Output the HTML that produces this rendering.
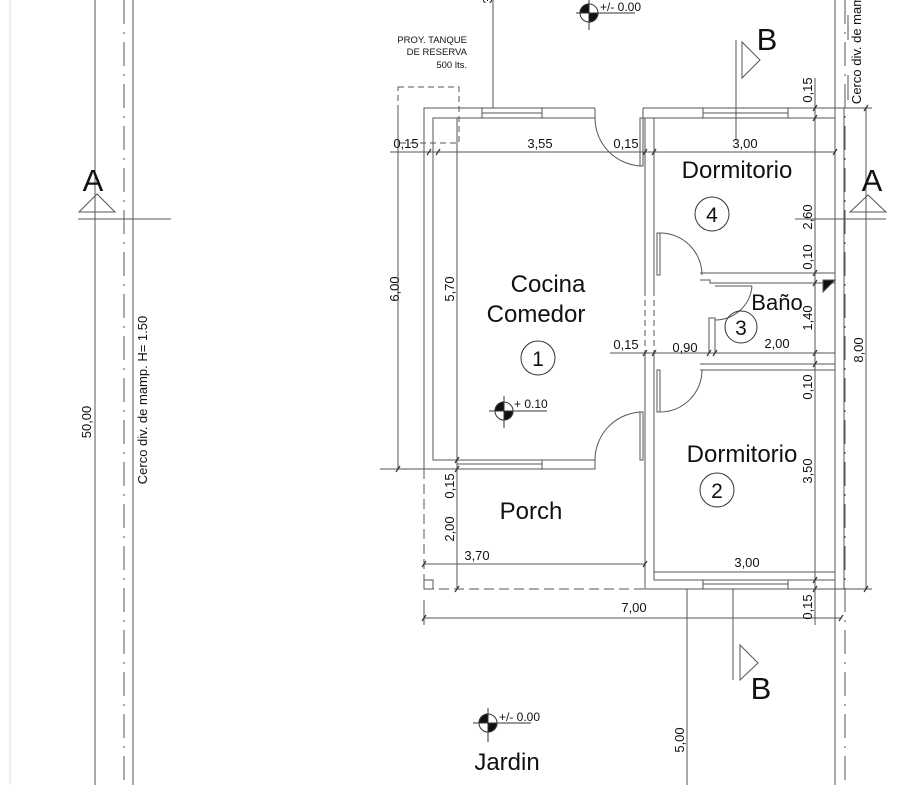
<!DOCTYPE html>
<html><head><meta charset="utf-8"><style>
html,body{margin:0;padding:0;background:#fff;width:906px;height:785px;overflow:hidden}
svg{display:block}
text{font-family:"Liberation Sans",sans-serif;fill:#111}
</style></head><body>
<svg width="906" height="785" viewBox="0 0 906 785" xmlns="http://www.w3.org/2000/svg">
<g stroke="#555" stroke-width="1" fill="none">
<line x1="10" y1="0" x2="10" y2="785" stroke="#ddd"/>
<line x1="95" y1="0" x2="95" y2="785"/>
<line x1="124" y1="0" x2="124" y2="785" stroke-dasharray="24,8,2,8"/>
<line x1="133" y1="0" x2="133" y2="785"/>
<line x1="78" y1="219" x2="171" y2="219"/>
<polygon points="97,194 79,212 115,212"/>
<line x1="835" y1="0" x2="835" y2="785"/>
<line x1="845" y1="0" x2="845" y2="785" stroke-dasharray="24,8,2,8"/>
<line x1="795" y1="219" x2="886" y2="219"/>
<polygon points="868,195 850,212 886,212"/>
<line x1="848" y1="15" x2="848" y2="40"/>
<line x1="848" y1="75" x2="848" y2="100"/>
<rect x="398" y="87" width="61" height="56" stroke-dasharray="6,4"/>
<polyline points="595,108 424,108 424,469 433,469"/>
<polyline points="595,118 433,118 433,460 595,460 595,469 457,469"/>
<line x1="595" y1="108" x2="595" y2="118"/>
<line x1="424" y1="469" x2="457" y2="469"/>
<line x1="457" y1="464" x2="542" y2="464"/>
<line x1="542" y1="460" x2="542" y2="469"/>
<line x1="482" y1="113" x2="542" y2="113"/>
<line x1="542" y1="108" x2="542" y2="118"/>
<line x1="482" y1="108" x2="482" y2="118"/>
<polyline points="424,469 424,589 645,589" stroke-dasharray="10,5"/>
<rect x="424" y="580" width="9" height="9"/>
<polyline points="643,108 844,108 844,589 645,589 645,460"/>
<polyline points="654,118 835,118 835,580 654,580 654,370"/>
<line x1="643" y1="108" x2="643" y2="118"/>
<line x1="643" y1="118" x2="654" y2="118"/>
<line x1="645" y1="118" x2="645" y2="290"/>
<line x1="654" y1="118" x2="654" y2="290"/>
<line x1="645" y1="290" x2="645" y2="353" stroke-dasharray="6,4"/>
<line x1="654" y1="290" x2="654" y2="353" stroke-dasharray="6,4"/>
<line x1="645" y1="353" x2="645" y2="460"/>
<line x1="654" y1="353" x2="654" y2="370"/>
<line x1="703" y1="113" x2="788" y2="113"/>
<line x1="703" y1="108" x2="703" y2="118"/>
<line x1="788" y1="108" x2="788" y2="118"/>
<line x1="703" y1="584" x2="788" y2="584"/>
<line x1="703" y1="580" x2="703" y2="589"/>
<line x1="788" y1="580" x2="788" y2="589"/>
<polyline points="700,273 835,273"/>
<polyline points="700,280 710,280 710,283 835,283"/>
<line x1="715" y1="286" x2="752" y2="286"/>
<polyline points="709,353 709,318 715,318 715,353"/>
<line x1="715" y1="353" x2="835" y2="353"/>
<polyline points="700,364 835,364"/>
<line x1="700" y1="370" x2="835" y2="370"/>
<polygon points="823,280 835,280 823,292" fill="#111"/>
<path d="M595,118 A48,48 0 0 0 643,166"/>
<rect x="640" y="118" width="3" height="48"/>
<path d="M643,412 A48,48 0 0 0 595,460"/>
<rect x="640" y="412" width="3" height="48"/>
<path d="M660,233 A42,42 0 0 1 702,275"/>
<rect x="657" y="233" width="3" height="42"/>
<path d="M702,370 A42,42 0 0 1 660,412"/>
<rect x="657" y="370" width="3" height="42"/>
<path d="M752,286 A37,37 0 0 1 715,320"/>
<line x1="390" y1="152" x2="835" y2="152"/>
<line x1="398" y1="108" x2="398" y2="469"/>
<line x1="380" y1="469" x2="424" y2="469"/>
<line x1="457" y1="118" x2="457" y2="589"/>
<line x1="424" y1="564" x2="645" y2="564"/>
<line x1="654" y1="572" x2="835" y2="572"/>
<line x1="424" y1="618" x2="841" y2="618"/>
<line x1="424" y1="600" x2="424" y2="625"/>
<line x1="610" y1="353" x2="835" y2="353"/>
<line x1="815" y1="78" x2="815" y2="625"/>
<line x1="866" y1="108" x2="866" y2="589"/>
<line x1="844" y1="108" x2="872" y2="108"/>
<line x1="844" y1="589" x2="872" y2="589"/>
<line x1="687" y1="589" x2="687" y2="785"/>
<line x1="493" y1="0" x2="493" y2="108"/>
<line x1="736" y1="40" x2="736" y2="140"/>
<polygon points="742,42 760,60 742,78"/>
<line x1="733" y1="589" x2="733" y2="680"/>
<polygon points="740,645 758,663 740,680"/>
</g>
<g stroke="#333" stroke-width="1.2">
<line x1="427" y1="155" x2="431" y2="149"/><line x1="436" y1="155" x2="440" y2="149"/>
<line x1="643" y1="155" x2="647" y2="149"/><line x1="652" y1="155" x2="656" y2="149"/>
<line x1="833" y1="155" x2="837" y2="149"/>
<line x1="813" y1="111" x2="817" y2="105"/><line x1="813" y1="121" x2="817" y2="115"/>
<line x1="813" y1="276" x2="817" y2="270"/><line x1="813" y1="286" x2="817" y2="280"/>
<line x1="813" y1="356" x2="817" y2="350"/><line x1="813" y1="367" x2="817" y2="361"/>
<line x1="813" y1="583" x2="817" y2="577"/><line x1="813" y1="592" x2="817" y2="586"/>
<line x1="422" y1="621" x2="426" y2="615"/><line x1="839" y1="621" x2="843" y2="615"/>
<line x1="864" y1="111" x2="868" y2="105"/><line x1="864" y1="592" x2="868" y2="586"/>
<line x1="396" y1="472" x2="400" y2="466"/>
<line x1="455" y1="463" x2="459" y2="457"/><line x1="455" y1="472" x2="459" y2="466"/><line x1="455" y1="592" x2="459" y2="586"/>
<line x1="643" y1="567" x2="647" y2="561"/><line x1="422" y1="567" x2="426" y2="561"/>
<line x1="643" y1="356" x2="647" y2="350"/><line x1="652" y1="356" x2="656" y2="350"/><line x1="707" y1="356" x2="711" y2="350"/><line x1="713" y1="356" x2="717" y2="350"/>
</g>
<g stroke="#333" stroke-width="1">
<circle cx="589" cy="13" r="9" fill="#fff"/><path d="M589,13 L589,4 A9,9 0 0 0 580,13 Z M589,13 L589,22 A9,9 0 0 0 598,13 Z" fill="#111"/>
<line x1="589" y1="0" x2="589" y2="30"/><line x1="576" y1="13" x2="635" y2="13"/>
<circle cx="504" cy="411" r="9" fill="#fff"/><path d="M504,411 L504,402 A9,9 0 0 0 495,411 Z M504,411 L504,420 A9,9 0 0 0 513,411 Z" fill="#111"/>
<line x1="504" y1="396" x2="504" y2="428"/><line x1="489" y1="411" x2="547" y2="411"/>
<circle cx="488" cy="723" r="9" fill="#fff"/><path d="M488,723 L488,714 A9,9 0 0 0 479,723 Z M488,723 L488,732 A9,9 0 0 0 497,723 Z" fill="#111"/>
<line x1="488" y1="708" x2="488" y2="742"/><line x1="473" y1="723" x2="531" y2="723"/>
</g>
<g fill="none" stroke="#333">
<circle cx="712" cy="214" r="17"/><circle cx="538" cy="358" r="17"/><circle cx="741" cy="327" r="16"/><circle cx="717" cy="490" r="17"/>
</g>
<text x="600" y="11" font-size="12">+/- 0.00</text>
<text x="514" y="408" font-size="12">+ 0.10</text>
<text x="499" y="721" font-size="12">+/- 0.00</text>
<g font-size="9.5" text-anchor="end"><text x="467" y="43">PROY. TANQUE</text><text x="467" y="55">DE RESERVA</text><text x="467" y="68">500 lts.</text></g>
<g font-size="24" text-anchor="middle">
<text x="737" y="178">Dormitorio</text><text x="548" y="292">Cocina</text><text x="536" y="322">Comedor</text>
<text x="742" y="462">Dormitorio</text><text x="531" y="519">Porch</text><text x="507" y="770">Jardin</text>
</g>
<text x="777" y="310" font-size="22" text-anchor="middle">Baño</text>
<g font-size="21" text-anchor="middle"><text x="712" y="222">4</text><text x="538" y="366">1</text><text x="741" y="335">3</text><text x="717" y="498">2</text></g>
<g font-size="31" text-anchor="middle"><text x="93" y="191">A</text><text x="872" y="191">A</text><text x="767" y="50">B</text><text x="761" y="699">B</text></g>
<g font-size="13" text-anchor="middle">
<text x="406" y="148">0,15</text><text x="540" y="148">3,55</text><text x="626" y="148">0,15</text><text x="745" y="148">3,00</text>
<text x="626" y="349">0,15</text><text x="685" y="352">0,90</text><text x="777" y="348">2,00</text>
<text x="477" y="560">3,70</text><text x="747" y="567">3,00</text><text x="634" y="612">7,00</text>
</g>
<g font-size="13" text-anchor="middle">
<text transform="translate(399,289) rotate(-90)">6,00</text>
<text transform="translate(454,289) rotate(-90)">5,70</text>
<text transform="translate(454,486) rotate(-90)">0,15</text>
<text transform="translate(454,529) rotate(-90)">2,00</text>
<text transform="translate(812,90) rotate(-90)">0,15</text>
<text transform="translate(812,217) rotate(-90)">2,60</text>
<text transform="translate(812,257) rotate(-90)">0,10</text>
<text transform="translate(812,318) rotate(-90)">1,40</text>
<text transform="translate(812,387) rotate(-90)">0,10</text>
<text transform="translate(812,471) rotate(-90)">3,50</text>
<text transform="translate(812,607) rotate(-90)">0,15</text>
<text transform="translate(863,350) rotate(-90)">8,00</text>
<text transform="translate(684,740) rotate(-90)">5,00</text>
<text transform="translate(91,422) rotate(-90)">50,00</text>
<text transform="translate(492,0) rotate(-90)">3</text>
<text transform="translate(147,400) rotate(-90)">Cerco div. de mamp. H= 1.50</text>
<text transform="translate(861,50) rotate(-90)">Cerco div. de mam</text>
</g>
</svg>
</body></html>
